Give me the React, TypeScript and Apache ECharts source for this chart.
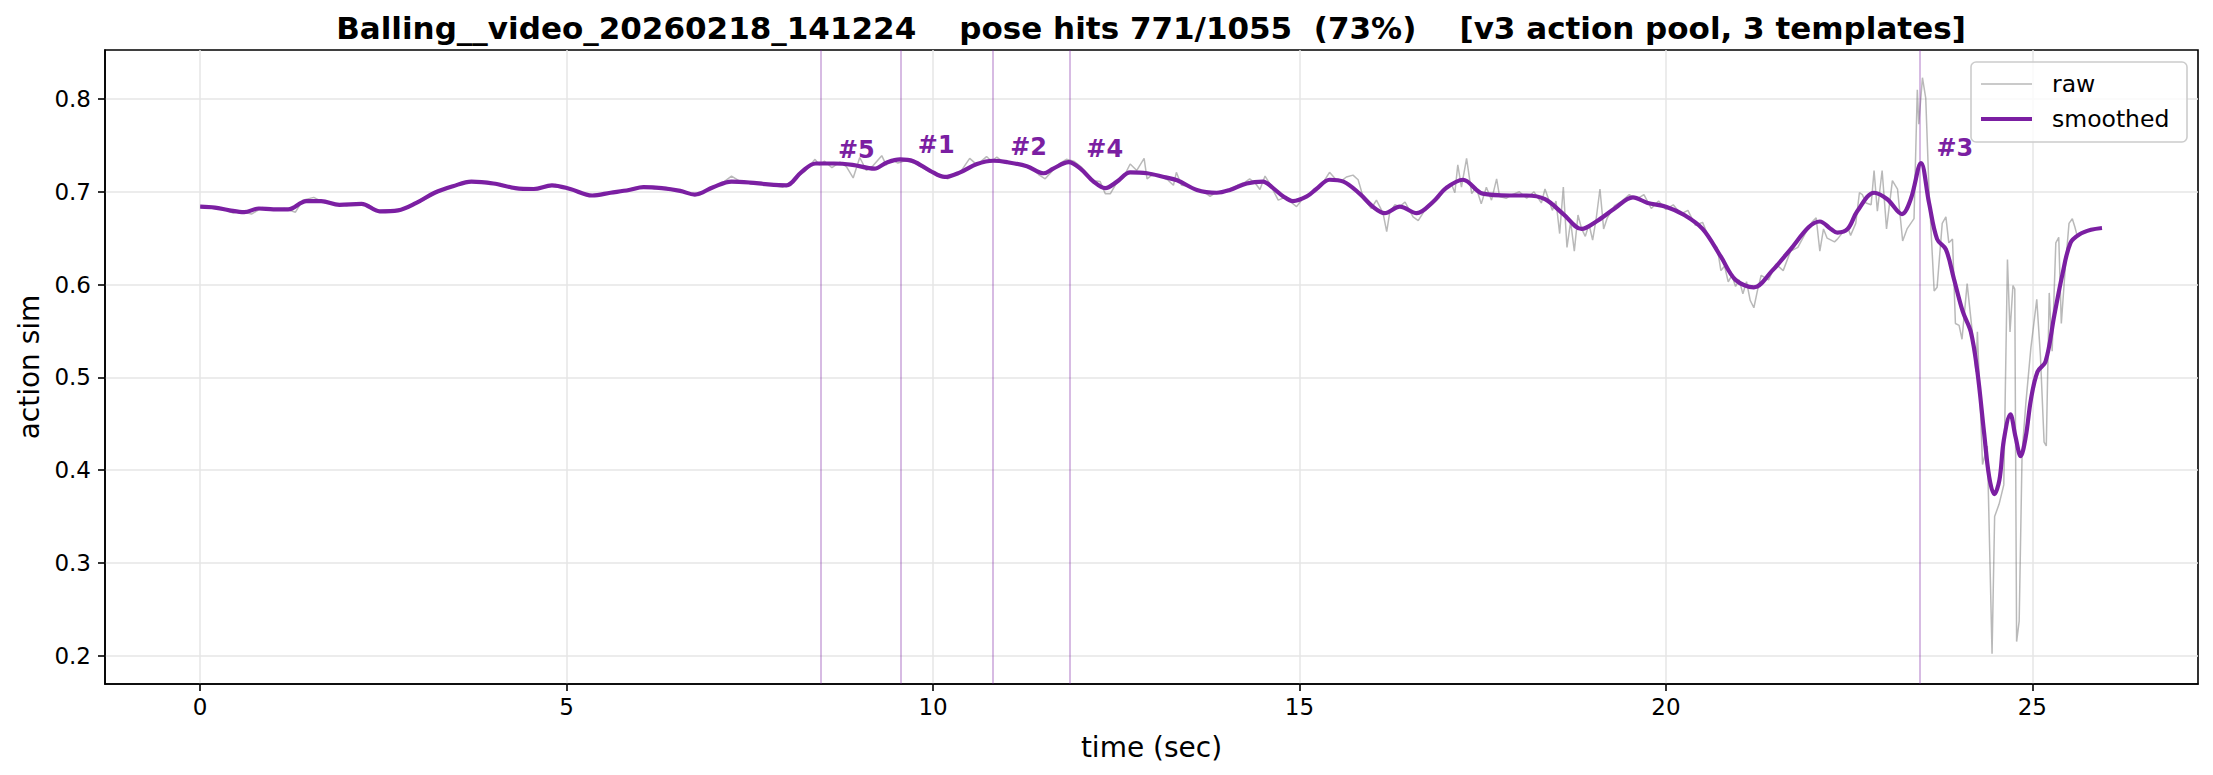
import React, { useEffect, useRef } from "react";
import * as echarts from "echarts";

const TITLE = "Balling__video_20260218_141224    pose hits 771/1055  (73%)    [v3 action pool, 3 templates]";
const X_TICKS = [0, 5, 10, 15, 20, 25];
const Y_TICKS = [0.2, 0.3, 0.4, 0.5, 0.6, 0.7, 0.8];

const SM_T = [0.0,0.2,0.4,0.6,0.8,1.0,1.2,1.45,1.65,1.9,2.2,2.45,2.7,2.95,3.2,3.45,3.7,4.0,4.3,4.55,4.8,5.05,5.35,5.6,5.85,6.05,6.3,6.55,6.75,7.0,7.25,7.5,7.75,8.0,8.2,8.4,8.65,8.9,9.2,9.37,9.55,9.73,9.96,10.16,10.37,10.6,10.82,11.01,11.28,11.51,11.64,11.85,12.01,12.19,12.35,12.51,12.69,12.92,13.15,13.33,13.6,13.87,14.05,14.28,14.5,14.64,14.78,14.91,15.1,15.23,15.41,15.6,15.82,16.0,16.16,16.37,16.6,16.82,17.0,17.23,17.5,17.87,18.1,18.35,18.6,18.85,19.05,19.3,19.55,19.75,20.0,20.25,20.5,20.75,20.95,21.2,21.45,21.7,21.95,22.1,22.25,22.34,22.48,22.61,22.84,23.02,23.22,23.34,23.48,23.59,23.7,23.82,23.93,24.05,24.16,24.25,24.34,24.41,24.48,24.55,24.61,24.7,24.77,24.84,24.91,24.98,25.07,25.18,25.3,25.41,25.52,25.64,25.8,25.95];
const SMOOTHED = [0.684,0.683,0.680,0.678,0.682,0.681,0.681,0.690,0.690,0.686,0.687,0.679,0.680,0.688,0.699,0.706,0.711,0.709,0.704,0.703,0.707,0.703,0.696,0.699,0.702,0.705,0.704,0.701,0.697,0.705,0.711,0.710,0.708,0.707,0.721,0.7305,0.7305,0.729,0.725,0.7317,0.735,0.733,0.7227,0.716,0.721,0.730,0.7335,0.732,0.7275,0.720,0.725,0.732,0.725,0.711,0.704,0.711,0.721,0.720,0.716,0.7125,0.702,0.699,0.702,0.709,0.711,0.704,0.695,0.690,0.695,0.703,0.713,0.711,0.698,0.684,0.677,0.684,0.677,0.689,0.704,0.713,0.698,0.696,0.696,0.692,0.676,0.660,0.668,0.682,0.694,0.688,0.684,0.675,0.660,0.630,0.605,0.597,0.615,0.638,0.662,0.668,0.660,0.656,0.660,0.679,0.699,0.692,0.676,0.692,0.731,0.688,0.649,0.638,0.606,0.571,0.549,0.506,0.441,0.393,0.374,0.389,0.432,0.460,0.436,0.415,0.436,0.476,0.506,0.517,0.567,0.611,0.645,0.654,0.659,0.661];

const RAW_T = [0.00,0.15,0.30,0.45,0.55,0.70,0.85,1.00,1.15,1.30,1.40,1.55,1.70,1.85,2.00,2.15,2.30,2.45,2.60,2.75,2.90,3.05,3.20,3.35,3.50,3.65,3.80,3.95,4.10,4.25,4.40,4.55,4.70,4.85,5.00,5.15,5.30,5.45,5.60,5.75,5.90,6.05,6.20,6.35,6.50,6.65,6.80,6.95,7.10,7.25,7.35,7.50,7.65,7.80,7.95,8.10,8.25,8.39,8.45,8.52,8.62,8.73,8.82,8.91,9.00,9.09,9.18,9.30,9.36,9.43,9.52,9.64,9.77,9.90,10.00,10.09,10.20,10.30,10.37,10.50,10.60,10.73,10.80,10.87,10.98,11.10,11.22,11.35,11.45,11.53,11.62,11.72,11.82,11.92,12.02,12.12,12.20,12.28,12.35,12.42,12.50,12.60,12.69,12.78,12.88,12.92,13.00,13.10,13.20,13.28,13.32,13.39,13.50,13.60,13.70,13.78,13.87,13.95,14.05,14.15,14.25,14.32,14.40,14.46,14.53,14.60,14.71,14.80,14.88,14.96,15.05,15.15,15.25,15.33,15.41,15.50,15.56,15.64,15.73,15.80,15.87,15.98,16.05,16.14,16.19,16.23,16.30,16.37,16.44,16.55,16.62,16.70,16.82,16.90,17.00,17.08,17.12,17.16,17.21,17.28,17.35,17.41,17.48,17.55,17.62,17.69,17.73,17.82,17.90,18.00,18.10,18.20,18.30,18.35,18.45,18.50,18.55,18.60,18.65,18.70,18.75,18.80,18.85,18.90,18.95,19.00,19.05,19.10,19.15,19.20,19.30,19.40,19.50,19.60,19.70,19.80,19.90,20.00,20.10,20.20,20.30,20.40,20.50,20.60,20.70,20.75,20.80,20.85,20.90,20.95,21.00,21.05,21.10,21.15,21.20,21.25,21.30,21.40,21.50,21.60,21.70,21.80,21.90,22.00,22.05,22.10,22.15,22.20,22.30,22.34,22.41,22.48,22.52,22.59,22.64,22.68,22.73,22.80,22.84,22.885,22.95,23.01,23.09,23.16,23.23,23.29,23.385,23.43,23.45,23.50,23.545,23.59,23.66,23.70,23.77,23.82,23.86,23.91,23.95,24.00,24.04,24.11,24.18,24.23,24.25,24.32,24.385,24.45,24.485,24.545,24.61,24.66,24.695,24.735,24.76,24.785,24.82,24.86,24.91,24.98,25.06,25.11,25.16,25.19,25.23,25.27,25.32,25.36,25.395,25.45,25.50,25.545,25.58,25.61];
const RAW = [0.684,0.683,0.682,0.677,0.679,0.676,0.683,0.680,0.682,0.678,0.691,0.694,0.688,0.687,0.685,0.688,0.686,0.678,0.679,0.681,0.686,0.691,0.698,0.703,0.707,0.712,0.711,0.708,0.709,0.703,0.704,0.702,0.705,0.708,0.704,0.701,0.695,0.697,0.700,0.700,0.704,0.706,0.703,0.705,0.702,0.699,0.696,0.703,0.708,0.717,0.712,0.709,0.710,0.707,0.705,0.713,0.722,0.735,0.729,0.733,0.726,0.732,0.727,0.715,0.737,0.723,0.728,0.739,0.729,0.735,0.731,0.734,0.730,0.724,0.721,0.717,0.714,0.719,0.721,0.736,0.729,0.738,0.733,0.7375,0.731,0.730,0.728,0.726,0.718,0.714,0.722,0.730,0.735,0.733,0.727,0.718,0.712,0.711,0.698,0.698,0.709,0.716,0.730,0.723,0.736,0.714,0.719,0.717,0.713,0.707,0.721,0.707,0.706,0.701,0.700,0.695,0.700,0.699,0.703,0.707,0.710,0.714,0.709,0.7025,0.717,0.708,0.691,0.694,0.689,0.684,0.693,0.697,0.705,0.711,0.721,0.713,0.711,0.716,0.718,0.713,0.694,0.682,0.691,0.677,0.657,0.677,0.686,0.684,0.689,0.673,0.669,0.679,0.687,0.693,0.705,0.707,0.699,0.729,0.705,0.736,0.698,0.705,0.687,0.705,0.691,0.714,0.695,0.693,0.697,0.700,0.693,0.700,0.688,0.703,0.680,0.690,0.655,0.705,0.640,0.668,0.636,0.675,0.660,0.652,0.665,0.648,0.672,0.703,0.660,0.672,0.685,0.690,0.697,0.692,0.697,0.682,0.690,0.681,0.686,0.676,0.680,0.664,0.667,0.648,0.640,0.615,0.620,0.603,0.610,0.598,0.605,0.590,0.603,0.583,0.575,0.594,0.610,0.605,0.622,0.615,0.636,0.640,0.655,0.668,0.672,0.636,0.660,0.650,0.646,0.649,0.656,0.662,0.653,0.666,0.699,0.697,0.688,0.686,0.723,0.679,0.723,0.660,0.712,0.703,0.647,0.660,0.671,0.810,0.773,0.823,0.801,0.701,0.593,0.597,0.666,0.673,0.645,0.649,0.558,0.556,0.541,0.601,0.549,0.506,0.549,0.406,0.426,0.202,0.350,0.363,0.384,0.627,0.549,0.599,0.595,0.215,0.237,0.419,0.471,0.532,0.584,0.523,0.430,0.426,0.591,0.528,0.645,0.651,0.558,0.619,0.666,0.671,0.662,0.653];

const EVENT_T = [8.47, 9.56, 10.82, 11.86, 23.46];
const EVENT_NAMES = ["#5", "#1", "#2", "#4", "#3"];
const EVENT_LABEL_Y = [0.745, 0.75, 0.748, 0.746, 0.747];

const X_MIN = -1.2985;
const X_MAX = 27.26;
const Y_MIN = 0.1693;
const Y_MAX = 0.8529;

const PURPLE = "#7B1FA2";
const FONT = "DejaVu Sans";

export default function App() {
  const ref = useRef<HTMLDivElement>(null);
  useEffect(() => {
    if (!ref.current) return;
    const chart = echarts.init(ref.current, null, { renderer: "svg" });
    const rawData = RAW_T.map((t, i) => [t, RAW[i]]);
    const smData = SM_T.map((t, i) => [t, SMOOTHED[i]]);
    const evData = EVENT_T.map((t, i) => ({ value: [t, EVENT_LABEL_Y[i]], name: EVENT_NAMES[i] }));
    const lgX = 1971;
    const lgY = 62;
    const lgW = 216;
    const lgH = 80;
    chart.setOption({
      animation: false,
      textStyle: { fontFamily: FONT },
      grid: {
        left: 105,
        right: 15,
        top: 50,
        bottom: 91,
        show: true,
        borderColor: "#000",
        borderWidth: 1.6,
        backgroundColor: "transparent",
      },
      xAxis: {
        type: "value",
        min: X_MIN,
        max: X_MAX,
        axisLine: { show: true, onZero: false, lineStyle: { color: "#000", width: 1.6 } },
        axisTick: { show: true, length: 7, lineStyle: { color: "#000", width: 1.6 }, customValues: X_TICKS },
        axisLabel: { customValues: X_TICKS, fontSize: 23, color: "#000", margin: 11, fontFamily: FONT },
        splitLine: { show: true, lineStyle: { color: "#e6e6e6", width: 1.5 } },
        name: "time (sec)",
        nameLocation: "middle",
        nameGap: 49,
        nameTextStyle: { fontSize: 28, color: "#000", fontFamily: FONT },
      },
      yAxis: {
        type: "value",
        min: Y_MIN,
        max: Y_MAX,
        axisLine: { show: true, onZero: false, lineStyle: { color: "#000", width: 1.6 } },
        axisTick: { show: true, length: 7, lineStyle: { color: "#000", width: 1.6 }, customValues: Y_TICKS },
        axisLabel: { customValues: Y_TICKS, fontSize: 23, color: "#000", margin: 14, fontFamily: FONT, formatter: (v: number) => v.toFixed(1) },
        splitLine: { show: true, lineStyle: { color: "#e6e6e6", width: 1.5 } },
        name: "action sim",
        nameLocation: "middle",
        nameGap: 60,
        nameTextStyle: { fontSize: 28, color: "#000", fontFamily: FONT },
      },
      series: [
        {
          type: "line",
          name: "events",
          data: [],
          z: 1,
          markLine: {
            silent: true,
            symbol: "none",
            label: { show: false },
            lineStyle: { color: "rgba(123,31,162,0.3)", width: 2, type: "solid" },
            data: EVENT_T.map((t) => ({ xAxis: t })),
          },
        },
        {
          type: "line",
          name: "raw",
          data: rawData,
          showSymbol: false,
          z: 2,
          lineStyle: { color: "#808080", opacity: 0.55, width: 1.5 },
          itemStyle: { color: "#808080" },
        },
        {
          type: "line",
          name: "smoothed",
          data: smData,
          showSymbol: false,
          smooth: 0.35,
          z: 3,
          lineStyle: { color: PURPLE, width: 4.2 },
          itemStyle: { color: PURPLE },
        },
        {
          type: "scatter",
          name: "labels",
          data: evData,
          symbolSize: 2,
          z: 4,
          itemStyle: { color: "rgba(0,0,0,0)", opacity: 1 },
          labelLayout: { hideOverlap: false },
          label: {
            show: true,
            position: "right",
            distance: 16,
            formatter: (p: any) => p.name,
            color: PURPLE,
            opacity: 1,
            fontWeight: "bold",
            fontSize: 24,
            fontFamily: FONT,
            align: "left",
            verticalAlign: "middle",
          },
        },
      ],
      graphic: [
        {
          type: "text",
          x: 1151,
          y: 28,
          style: { text: TITLE, font: `bold 31px "${FONT}"`, fill: "#000", align: "center", verticalAlign: "middle" },
        },
        {
          type: "rect",
          shape: { x: lgX, y: lgY, width: lgW, height: lgH, r: 5 },
          style: { fill: "rgba(255,255,255,0.8)", stroke: "#cccccc", lineWidth: 1.6 },
          z: 10,
        },
        {
          type: "line",
          shape: { x1: lgX + 10, y1: lgY + 22, x2: lgX + 61, y2: lgY + 22 },
          style: { stroke: "rgba(128,128,128,0.55)", lineWidth: 1.5 },
          z: 11,
        },
        {
          type: "text",
          x: lgX + 81,
          y: lgY + 22,
          style: { text: "raw", font: `23.5px "${FONT}"`, fill: "#000", verticalAlign: "middle", align: "left" },
          z: 11,
        },
        {
          type: "line",
          shape: { x1: lgX + 10, y1: lgY + 57, x2: lgX + 61, y2: lgY + 57 },
          style: { stroke: PURPLE, lineWidth: 4.2 },
          z: 11,
        },
        {
          type: "text",
          x: lgX + 81,
          y: lgY + 57,
          style: { text: "smoothed", font: `23.5px "${FONT}"`, fill: "#000", verticalAlign: "middle", align: "left" },
          z: 11,
        },
      ],
    });
    return () => chart.dispose();
  }, []);
  return <div ref={ref} style={{ position: "absolute", left: 0, top: 0, width: 2213, height: 775 }} />;
}
